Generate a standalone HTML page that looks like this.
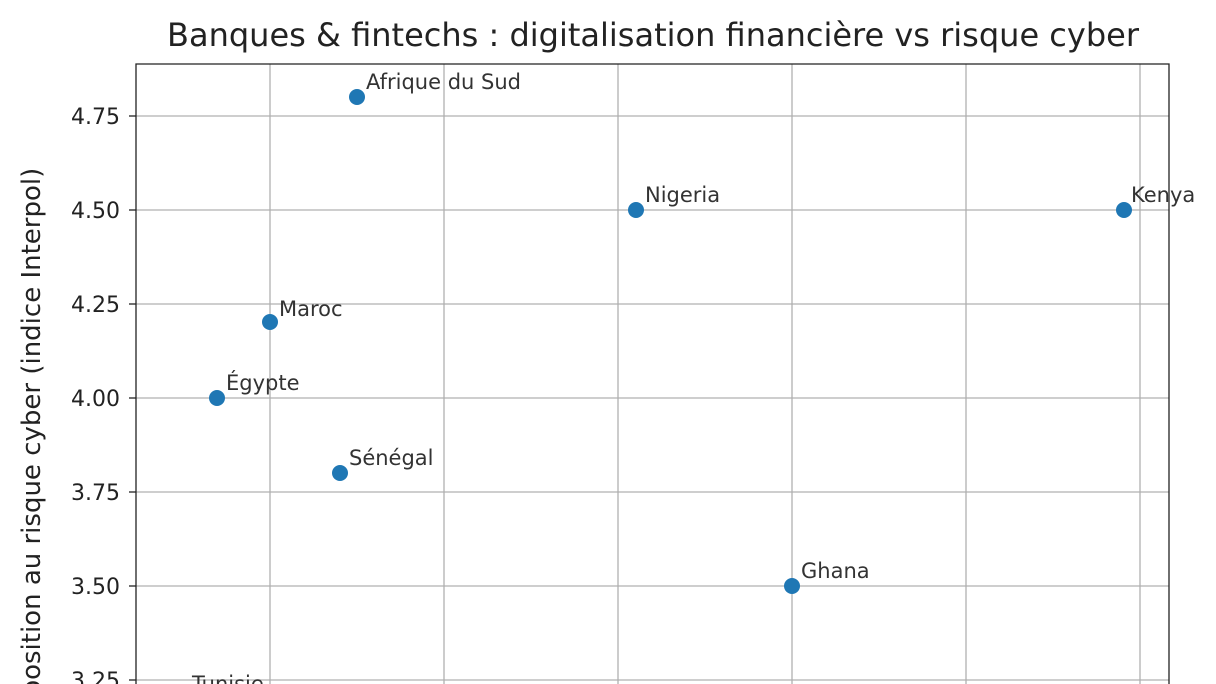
<!DOCTYPE html>
<html><head><meta charset="utf-8"><style>
html,body{margin:0;background:#fff;width:1216px;height:684px;overflow:hidden;}
svg{display:block;font-family:"DejaVu Sans","Liberation Sans",sans-serif;overflow:hidden;}
</style></head><body>
<svg width="1216" height="684" viewBox="0 0 1216 684">
<rect width="1216" height="684" fill="#fff"/>
<text x="653" y="46" font-size="32" text-anchor="middle" fill="#222">Banques &amp; fintechs : digitalisation financière vs risque cyber</text>
<g stroke="#b0b0b0" stroke-width="1.3">
<line x1="270" y1="64" x2="270" y2="684"/><line x1="444" y1="64" x2="444" y2="684"/>
<line x1="618" y1="64" x2="618" y2="684"/><line x1="792" y1="64" x2="792" y2="684"/>
<line x1="966" y1="64" x2="966" y2="684"/><line x1="1140" y1="64" x2="1140" y2="684"/>
<line x1="136" y1="116" x2="1169" y2="116"/><line x1="136" y1="210" x2="1169" y2="210"/>
<line x1="136" y1="304" x2="1169" y2="304"/><line x1="136" y1="398" x2="1169" y2="398"/>
<line x1="136" y1="492" x2="1169" y2="492"/><line x1="136" y1="586" x2="1169" y2="586"/>
<line x1="136" y1="680" x2="1169" y2="680"/>
</g>
<path d="M136 684 V64 H1169 V684" fill="none" stroke="#222" stroke-width="1.3"/>
<g stroke="#222" stroke-width="1.3">
<line x1="129" y1="116" x2="136" y2="116"/><line x1="129" y1="210" x2="136" y2="210"/>
<line x1="129" y1="304" x2="136" y2="304"/><line x1="129" y1="398" x2="136" y2="398"/>
<line x1="129" y1="492" x2="136" y2="492"/><line x1="129" y1="586" x2="136" y2="586"/>
<line x1="129" y1="680" x2="136" y2="680"/>
</g>
<g font-size="22" text-anchor="end" fill="#222">
<text x="120" y="124">4.75</text><text x="120" y="218">4.50</text><text x="120" y="312">4.25</text>
<text x="120" y="406">4.00</text><text x="120" y="500">3.75</text><text x="120" y="594">3.50</text>
<text x="120" y="688">3.25</text>
</g>
<text transform="translate(40,448) rotate(-90)" font-size="26" text-anchor="middle" fill="#222">Exposition au risque cyber (indice Interpol)</text>
<g fill="#1f77b4">
<circle cx="357" cy="97" r="8"/><circle cx="636" cy="210" r="8"/><circle cx="1124" cy="210" r="8"/>
<circle cx="270" cy="322" r="8"/><circle cx="217" cy="398" r="8"/><circle cx="340" cy="473" r="8"/>
<circle cx="792" cy="586" r="8"/>
</g>
<g font-size="21" fill="#333">
<text x="366" y="89">Afrique du Sud</text><text x="645" y="202">Nigeria</text><text x="1131" y="202">Kenya</text>
<text x="279" y="316">Maroc</text><text x="226" y="390">Égypte</text><text x="349" y="465">Sénégal</text>
<text x="801" y="578">Ghana</text><text x="192" y="691">Tunisie</text>
</g>
</svg>
</body></html>
